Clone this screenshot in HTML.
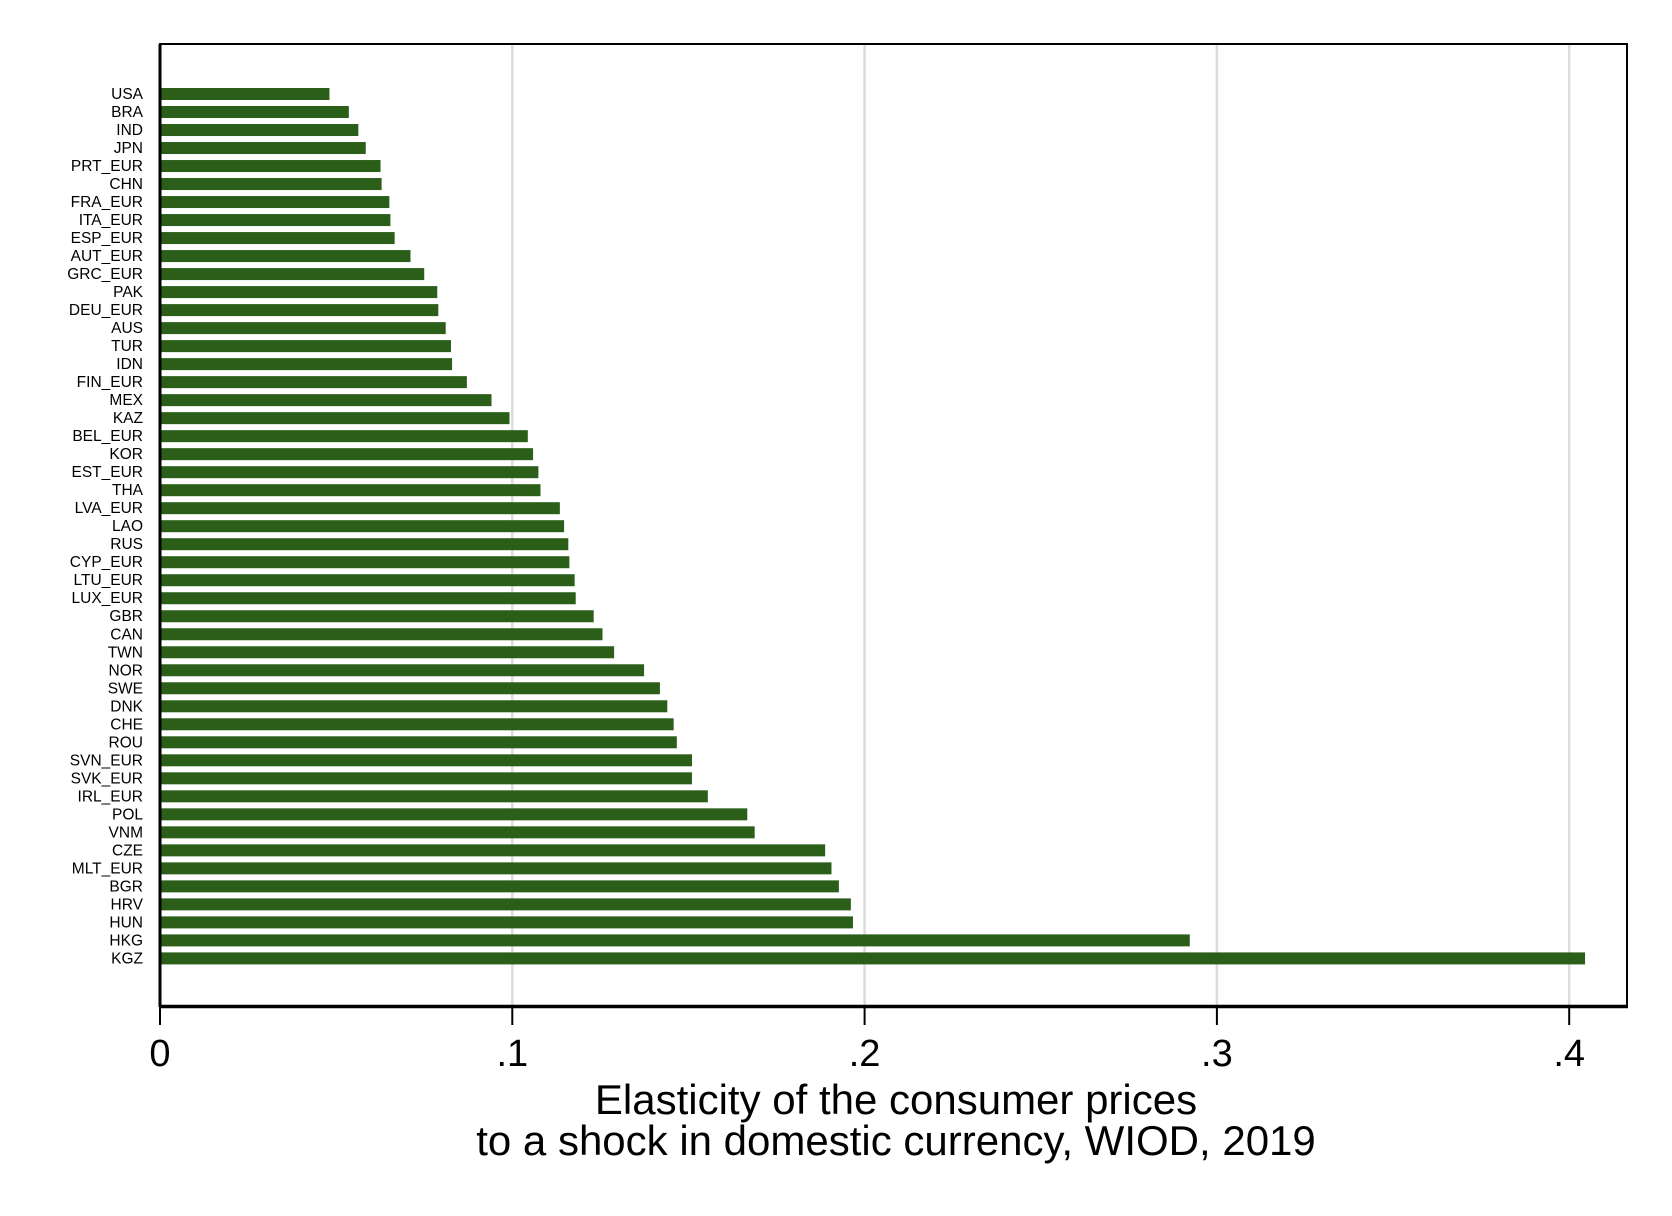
<!DOCTYPE html>
<html><head><meta charset="utf-8"><style>
html,body{margin:0;padding:0;background:#fff;}
svg{display:block;font-family:"Liberation Sans",Arial,sans-serif;}
</style></head><body>
<svg id="chart" width="1672" height="1216" viewBox="0 0 1672 1216" xmlns="http://www.w3.org/2000/svg">
<rect x="0" y="0" width="1672" height="1216" fill="#fff"/>
<g id="grid"></g>
<g id="bars"></g>
<g id="ylabels"></g>
<rect x="160" y="44" width="1467" height="962.5" fill="none" stroke="#000" stroke-width="2"/>
<line x1="160" y1="44" x2="160" y2="1007" stroke="#000" stroke-width="3"/>
<line x1="159" y1="1006.5" x2="1628" y2="1006.5" stroke="#000" stroke-width="3.5"/>
<g id="xticks"></g>
<text x="896" y="1114" font-size="42" text-anchor="middle">Elasticity of the consumer prices</text>
<text x="896" y="1155" font-size="42" text-anchor="middle">to a shock in domestic currency, WIOD, 2019</text>
</svg>
<script>
const categories = ["USA","BRA","IND","JPN","PRT_EUR","CHN","FRA_EUR","ITA_EUR","ESP_EUR","AUT_EUR","GRC_EUR","PAK","DEU_EUR","AUS","TUR","IDN","FIN_EUR","MEX","KAZ","BEL_EUR","KOR","EST_EUR","THA","LVA_EUR","LAO","RUS","CYP_EUR","LTU_EUR","LUX_EUR","GBR","CAN","TWN","NOR","SWE","DNK","CHE","ROU","SVN_EUR","SVK_EUR","IRL_EUR","POL","VNM","CZE","MLT_EUR","BGR","HRV","HUN","HKG","KGZ"];
const values = [0.0481,0.0536,0.0563,0.0584,0.0626,0.0629,0.0651,0.0654,0.0666,0.0711,0.0750,0.0787,0.0790,0.0811,0.0826,0.0829,0.0871,0.0941,0.0992,0.1044,0.1059,0.1074,0.1080,0.1135,0.1147,0.1159,0.1162,0.1177,0.1180,0.1231,0.1256,0.1289,0.1374,0.1419,0.1440,0.1458,0.1467,0.1510,0.1510,0.1555,0.1667,0.1688,0.1888,0.1906,0.1927,0.1961,0.1967,0.2923,0.4045];
const tickValues = [0,0.1,0.2,0.3,0.4];
const tickLabels = ["0",".1",".2",".3",".4"];

const NS = "http://www.w3.org/2000/svg";
const x0 = 160, xPer = 3523;
const xScale = v => x0 + v * xPer;
const yTop = 94, yBot = 958.4;
const yScale = i => yTop + i * (yBot - yTop) / (categories.length - 1);
const barH = 12;

const grid = document.getElementById('grid');
const bars = document.getElementById('bars');
const ylabels = document.getElementById('ylabels');
const xticks = document.getElementById('xticks');

tickValues.forEach((t, i) => {
  const x = xScale(t);
  if (t > 0) {
    const g = document.createElementNS(NS, 'line');
    g.setAttribute('x1', x); g.setAttribute('x2', x);
    g.setAttribute('y1', 44); g.setAttribute('y2', 1006);
    g.setAttribute('stroke', '#dcdcdc'); g.setAttribute('stroke-width', '2.5');
    
    
    grid.appendChild(g);
  }
  const tk = document.createElementNS(NS, 'line');
  tk.setAttribute('x1', x); tk.setAttribute('x2', x);
  tk.setAttribute('y1', 1006); tk.setAttribute('y2', 1025);
  tk.setAttribute('stroke', '#000'); tk.setAttribute('stroke-width', '2');
  
  
  xticks.appendChild(tk);
  const lb = document.createElementNS(NS, 'text');
  lb.setAttribute('x', x); lb.setAttribute('y', 1066);
  lb.setAttribute('font-size', '38'); lb.setAttribute('text-anchor', 'middle');
  lb.textContent = tickLabels[i];
  
  
  xticks.appendChild(lb);
});

categories.forEach((c, i) => {
  const y = yScale(i);
  const r = document.createElementNS(NS, 'rect');
  r.setAttribute('x', x0); r.setAttribute('y', y - barH / 2);
  r.setAttribute('width', xScale(values[i]) - x0); r.setAttribute('height', barH);
  r.setAttribute('fill', '#2b5e19');
  
  
  bars.appendChild(r);
  const t = document.createElementNS(NS, 'text');
  t.setAttribute('x', 143); t.setAttribute('y', y + 5);
  t.setAttribute('font-size', '15.5'); t.setAttribute('text-anchor', 'end');
  t.textContent = c;
  
  
  ylabels.appendChild(t);
});
</script>
</body></html>
